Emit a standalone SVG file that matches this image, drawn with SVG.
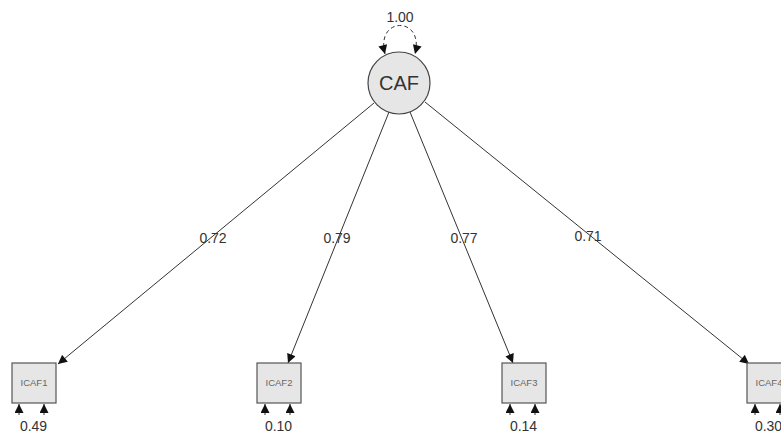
<svg xmlns="http://www.w3.org/2000/svg" width="781" height="433" viewBox="0 0 781 433">
<defs>
<marker id="ah" viewBox="0 0 10 10" refX="10" refY="5" markerWidth="10" markerHeight="9" markerUnits="userSpaceOnUse" orient="auto-start-reverse">
<path d="M0,0 L10,5 L0,10 z" fill="#111"/>
</marker>
</defs>
<style>
.edge{stroke:#333;stroke-width:1;fill:none;marker-end:url(#ah)}
.loop{stroke:#333;stroke-width:1;fill:none;stroke-dasharray:4,3}
.box{fill:#e6e6e6;stroke:#555;stroke-width:1.2}
.lat{fill:#e6e6e6;stroke:#444;stroke-width:1.2}
.lbl{font-family:"Liberation Sans",Arial,sans-serif;font-size:14px;fill:#333;text-anchor:middle}
.btxt{font-family:"Liberation Sans",Arial,sans-serif;font-size:9.5px;fill:#666;text-anchor:middle}
.ltxt{font-family:"Liberation Sans",Arial,sans-serif;font-size:20px;fill:#333;text-anchor:middle}
</style>
<rect width="781" height="433" fill="#fff"/>
<g id="connectors">
<path class="loop" d="M385,54 C375,16 425,16 415,54" marker-start="url(#ah)" marker-end="url(#ah)"/>
<line class="edge" x1="374" y1="103" x2="58" y2="364"/>
<line class="edge" x1="389" y1="112" x2="288" y2="363"/>
<line class="edge" x1="410" y1="112" x2="513" y2="363"/>
<line class="edge" x1="425" y1="102" x2="749" y2="364"/>
<line class="edge" x1="19" y1="415" x2="19" y2="404"/>
<line class="edge" x1="44" y1="415" x2="44" y2="404"/>
<line class="edge" x1="265" y1="415" x2="265" y2="404"/>
<line class="edge" x1="290" y1="415" x2="290" y2="404"/>
<line class="edge" x1="510" y1="415" x2="510" y2="404"/>
<line class="edge" x1="535" y1="415" x2="535" y2="404"/>
<line class="edge" x1="755" y1="415" x2="755" y2="404"/>
<line class="edge" x1="780" y1="415" x2="780" y2="404"/>
<text class="lbl" x="400" y="22">1.00</text>
<text class="lbl" x="213" y="243">0.72</text>
<text class="lbl" x="337" y="243">0.79</text>
<text class="lbl" x="464" y="243">0.77</text>
<text class="lbl" x="588" y="241">0.71</text>
</g>
<g id="CAF">
<circle class="lat" cx="399" cy="83" r="31"/>
<text class="ltxt" x="399" y="90">CAF</text>
</g>
<g id="ICAF1">
<rect class="box" x="12" y="363" width="44" height="40"/>
<text class="btxt" x="34" y="386">ICAF1</text>
<text class="lbl" x="33.5" y="431">0.49</text>
</g>
<g id="ICAF2">
<rect class="box" x="257" y="363" width="44" height="40"/>
<text class="btxt" x="279" y="386">ICAF2</text>
<text class="lbl" x="278.5" y="431">0.10</text>
</g>
<g id="ICAF3">
<rect class="box" x="502" y="363" width="44" height="40"/>
<text class="btxt" x="524" y="386">ICAF3</text>
<text class="lbl" x="523.5" y="431">0.14</text>
</g>
<g id="ICAF4">
<rect class="box" x="747" y="363" width="44" height="40"/>
<text class="btxt" x="769" y="386">ICAF4</text>
<text class="lbl" x="768.5" y="431">0.30</text>
</g>
</svg>
